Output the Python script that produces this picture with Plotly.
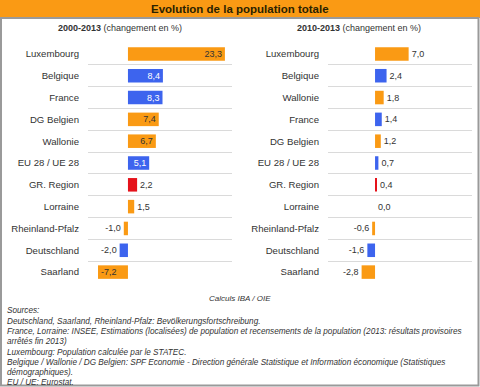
import plotly.graph_objects as go

W, H = 480, 387

title = "Evolution de la population totale"
sub_left = "<b>2000-2013</b> (changement en %)"
sub_right = "<b>2010-2013</b> (changement en %)"

cat_left = ["Luxembourg", "Belgique", "France", "DG Belgien", "Wallonie", "EU 28 / UE 28",
            "GR. Region", "Lorraine", "Rheinland-Pfalz", "Deutschland", "Saarland"]
val_left = [23.3, 8.4, 8.3, 7.4, 6.7, 5.1, 2.2, 1.5, -1.0, -2.0, -7.2]

cat_right = ["Luxembourg", "Belgique", "Wallonie", "France", "DG Belgien", "EU 28 / UE 28",
             "GR. Region", "Lorraine", "Rheinland-Pfalz", "Deutschland", "Saarland"]
val_right = [7.0, 2.4, 1.8, 1.4, 1.2, 0.7, 0.4, 0.0, -0.6, -1.6, -2.8]

group = {"Luxembourg": "o", "Belgique": "b", "France": "b", "DG Belgien": "o", "Wallonie": "o",
         "EU 28 / UE 28": "b", "GR. Region": "r", "Lorraine": "o", "Rheinland-Pfalz": "o",
         "Deutschland": "b", "Saarland": "o"}

footer_lines = [
    "Sources:",
    "Deutschland, Saarland, Rheinland-Pfalz: Bevölkerungsfortschreibung.",
    "France, Lorraine: INSEE, Estimations (localisées) de population et recensements de la population (2013: résultats provisoires",
    "arrêtés fin 2013)",
    "Luxembourg: Population calculée par le STATEC.",
    "Belgique / Wallonie / DG Belgien: SPF Economie - Direction générale Statistique et Information économique (Statistiques",
    "démographiques).",
    "EU / UE: Eurostat.",
]
calc_note = "Calculs IBA / OIE"

ORANGE = "#FA9A14"
BLUE = "#3D64EE"
RED = "#E5121B"
colmap = {"o": ORANGE, "b": BLUE, "r": RED}
FONT = "Liberation Sans, Arial, sans-serif"
TXT = "#333333"


def px(x):
    return x / W


def py(y):
    return 1 - y / H


inside_left = {"Luxembourg", "Belgique", "France", "DG Belgien", "Wallonie", "EU 28 / UE 28", "Saarland"}

fig = go.Figure()

fig.add_trace(go.Bar(
    x=val_left, y=cat_left, orientation="h",
    marker=dict(color=[colmap[group[c]] for c in cat_left], line=dict(width=0)),
    width=0.62,
    texttemplate="%{x:.1f}",
    textposition=["inside" if c in inside_left else "outside" for c in cat_left],
    insidetextanchor="end",
    constraintext="none",
    textfont=dict(family=FONT, size=9,
                  color=[("white" if group[c] == "b" else TXT) if c in inside_left else TXT for c in cat_left]),
    cliponaxis=False,
    xaxis="x", yaxis="y", showlegend=False,
))

fig.add_trace(go.Bar(
    x=val_right, y=cat_right, orientation="h",
    marker=dict(color=[colmap[group[c]] for c in cat_right], line=dict(width=0)),
    width=0.62,
    texttemplate="%{x:.1f}",
    textposition="outside",
    constraintext="none",
    textfont=dict(family=FONT, size=9, color=TXT),
    cliponaxis=False,
    xaxis="x2", yaxis="y2", showlegend=False,
))

ydom = [py(283), py(43)]
common_y = dict(type="category", tickson="boundaries", showgrid=True, gridcolor="#DADADA",
                gridwidth=1, ticks="", ticklabelstandoff=8, autorange="reversed", automargin=False,
                tickfont=dict(family=FONT, size=9.6, color=TXT), showline=False, zeroline=False,
                domain=ydom, fixedrange=True)
common_x = dict(showgrid=False, zeroline=False, showticklabels=False, ticks="", showline=False,
                automargin=False, fixedrange=True)

fig.update_layout(
    width=W, height=H,
    margin=dict(l=0, r=0, t=0, b=0, autoexpand=False),
    paper_bgcolor="white", plot_bgcolor="white",
    separators=", ",
    font=dict(family=FONT, color=TXT),
    hovermode=False,
    xaxis=dict(domain=[px(88), px(232)], range=[-9.6, 25], anchor="y", **common_x),
    yaxis=dict(anchor="x", categoryorder="array", categoryarray=cat_left, **common_y),
    xaxis2=dict(domain=[px(328), px(472)], range=[-9.8, 20.2], anchor="y2", **common_x),
    yaxis2=dict(anchor="x2", categoryorder="array", categoryarray=cat_right, **common_y),
)

shapes = [
    dict(type="rect", xref="paper", yref="paper", x0=px(0), x1=px(480), y0=py(18), y1=py(0),
         fillcolor=ORANGE, line=dict(width=0), layer="below"),
    dict(type="rect", xref="paper", yref="paper", x0=px(1), x1=px(478.5), y0=py(385.5), y1=py(18),
         fillcolor="rgba(0,0,0,0)", line=dict(color="#9A9A9A", width=2)),
]
fig.update_layout(shapes=shapes)

ann = [
    dict(text="<b>" + title + "</b>", x=px(240), y=py(9.5), font=dict(size=11.5, color="#2B2200", family=FONT)),
    dict(text=sub_left, x=px(120), y=py(28), font=dict(size=9, color=TXT, family=FONT)),
    dict(text=sub_right, x=px(359), y=py(28), font=dict(size=9, color=TXT, family=FONT)),
    dict(text="<i>" + calc_note + "</i>", x=px(240), y=py(298), font=dict(size=8, color=TXT, family=FONT)),
]
for a in ann:
    a.update(xref="paper", yref="paper", showarrow=False, xanchor="center", yanchor="middle")

ys = [310.5, 321, 331.5, 341.5, 352, 362, 372.5, 382]
for t, yy in zip(footer_lines, ys):
    ann.append(dict(text="<i>" + t + "</i>", x=px(5), y=py(yy), xref="paper", yref="paper",
                    showarrow=False, xanchor="left", yanchor="middle",
                    font=dict(size=8.2, color=TXT, family=FONT)))
fig.update_layout(annotations=ann)

fig.write_html("out.html", config={"displayModeBar": False},
               post_script="document.body.style.margin='0';document.body.style.overflow='hidden';")
